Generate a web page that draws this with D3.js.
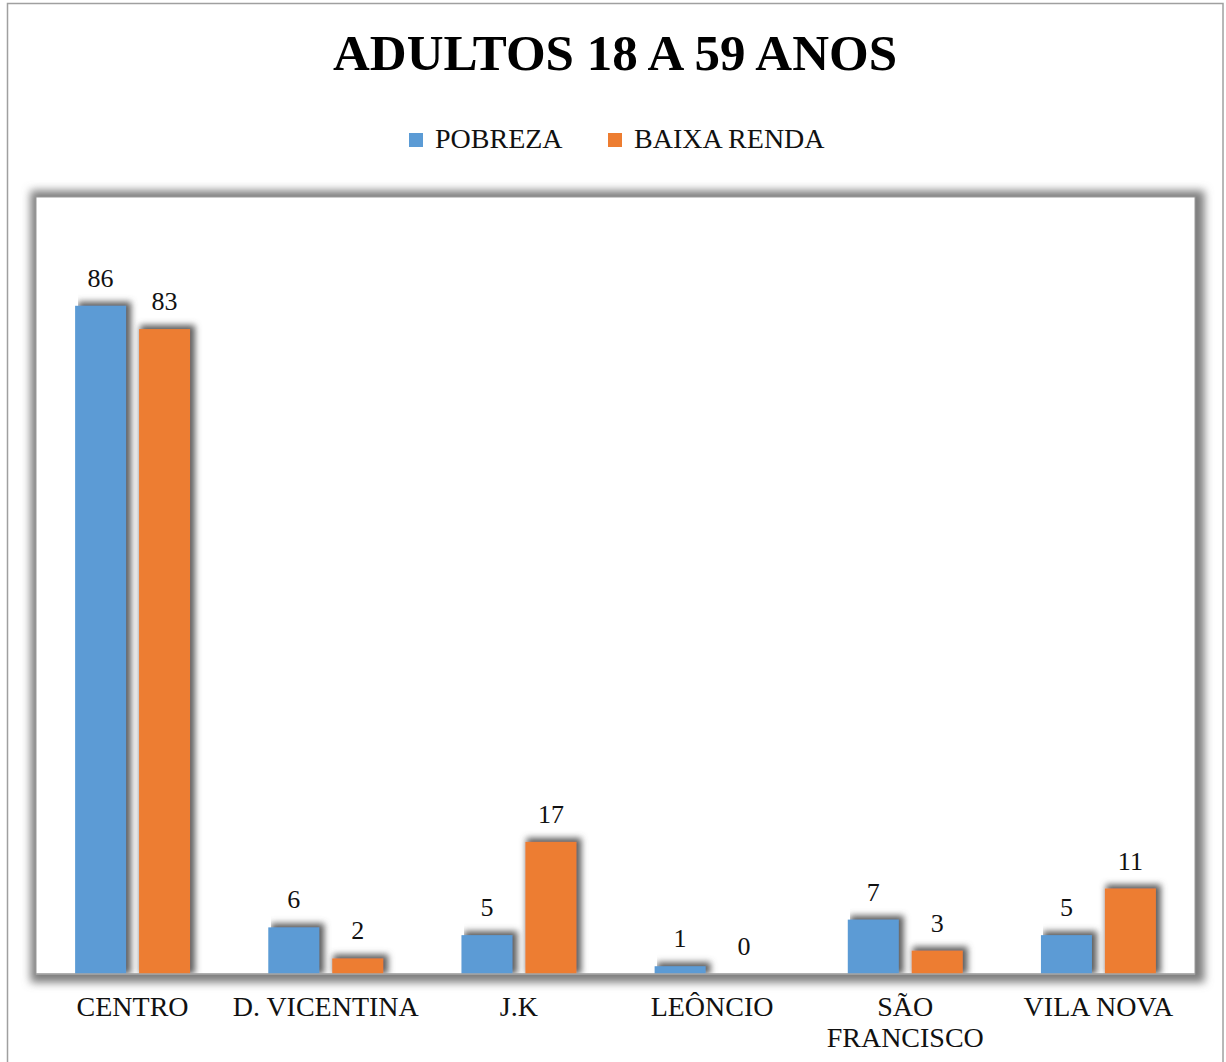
<!DOCTYPE html>
<html>
<head>
<meta charset="utf-8">
<script src="https://cdn.jsdelivr.net/npm/d3@7"></script>
<style>
  body { margin: 0; background: #fff; }
  text { font-family: "Liberation Serif", "Times New Roman", serif; }
</style>
</head>
<body>
<div id="chart"></div>
<script>
// data
const categories = ['CENTRO', 'D. VICENTINA', 'J.K', 'LEÔNCIO', 'SÃO FRANCISCO', 'VILA NOVA'];
const seriesNames = ['POBREZA', 'BAIXA RENDA'];
const pobreza = [86, 6, 5, 1, 7, 5];
const baixaRenda = [83, 2, 17, 0, 3, 11];
const colors = ['#5B9BD5', '#ED7D31'];

const width = 1226, height = 1062;
const plot = {left: 36, top: 197, right: 1195, bottom: 974};

const svg = d3.select('#chart').append('svg')
    .attr('width', width)
    .attr('height', height);

// soft grey shadows: grow the shape a little, blur it, shift it
const defs = svg.append('defs');
function shadow(id, grow, dx, dy, blur, color) {
    const f = defs.append('filter').attr('id', id)
        .attr('filterUnits', 'userSpaceOnUse')
        .attr('x', 0).attr('y', 0).attr('width', width).attr('height', height);
    f.append('feMorphology').attr('in', 'SourceAlpha').attr('operator', 'dilate')
        .attr('radius', grow).attr('result', 'd');
    f.append('feGaussianBlur').attr('in', 'd').attr('stdDeviation', blur).attr('result', 'b');
    f.append('feOffset').attr('in', 'b').attr('dx', dx).attr('dy', dy).attr('result', 'o');
    f.append('feFlood').attr('flood-color', color).attr('result', 'c');
    f.append('feComposite').attr('in', 'c').attr('in2', 'o').attr('operator', 'in').attr('result', 's');
    const m = f.append('feMerge');
    m.append('feMergeNode').attr('in', 's');
    m.append('feMergeNode').attr('in', 'SourceGraphic');
}
shadow('plotShadow', 7, 2, 1, 4, '#7d7d7d');
shadow('barShadow', 2, 3, -2, 3, '#5e5e5e');

// outer border
svg.append('rect')
    .attr('x', 7.5).attr('y', 3.5)
    .attr('width', 1215.5).attr('height', 1080)
    .attr('fill', '#fff')
    .attr('stroke', '#a0a0a0').attr('stroke-width', 1.5);

// title
svg.append('text')
    .attr('x', 615).attr('y', 70)
    .attr('text-anchor', 'middle')
    .attr('font-size', 51).attr('font-weight', 'bold')
    .attr('fill', '#000')
    .text('ADULTOS 18 A 59 ANOS');

// legend
const legendX = [409, 608];
const legend = svg.append('g').selectAll('g')
    .data(seriesNames)
    .join('g')
    .attr('transform', (d, i) => `translate(${legendX[i]}, 133)`);
legend.append('rect')
    .attr('width', 14).attr('height', 14)
    .attr('fill', (d, i) => colors[i]);
legend.append('text')
    .attr('x', 26).attr('y', 15)
    .attr('font-size', 28)
    .attr('fill', '#111')
    .text(d => d);

// plot area
const W = plot.right - plot.left, H = plot.bottom - plot.top;
svg.append('rect')
    .attr('x', plot.left).attr('y', plot.top)
    .attr('width', W).attr('height', H)
    .attr('fill', '#fff')
    .attr('stroke', '#9a9a9a').attr('stroke-width', 1)
    .attr('filter', 'url(#plotShadow)');

const chart = svg.append('g')
    .attr('transform', `translate(${plot.left}, ${plot.top})`);

const x0 = d3.scaleBand().domain(categories).range([0, W])
    .paddingInner(0.405).paddingOuter(0.2025);
const x1 = d3.scaleBand().domain(seriesNames).range([0, x0.bandwidth()])
    .paddingInner(0.203).paddingOuter(0);
const y = d3.scaleLinear().domain([0, 100]).range([H, 0]);

const rows = categories.map((c, i) => ({cat: c, vals: [pobreza[i], baixaRenda[i]]}));

const groups = chart.selectAll('g.cat')
    .data(rows)
    .join('g')
    .classed('cat', true)
    .attr('transform', d => `translate(${x0(d.cat)}, 0)`);

// clip bar shadows at the axis line
chart.append('clipPath').attr('id', 'plotClip')
  .append('rect').attr('x', -300).attr('y', -50).attr('width', W + 600).attr('height', H + 50);
groups.attr('clip-path', 'url(#plotClip)');

groups.selectAll('rect.bar')
    .data(d => d.vals.map((v, i) => ({s: seriesNames[i], v, i})))
    .join('rect')
    .classed('bar', true)
    .attr('x', d => x1(d.s))
    .attr('y', d => y(d.v))
    .attr('width', x1.bandwidth())
    .attr('height', d => H - y(d.v))
    .attr('fill', d => colors[d.i])
    .attr('filter', d => d.v > 0 ? 'url(#barShadow)' : null);

groups.selectAll('text.lbl')
    .data(d => d.vals.map((v, i) => ({s: seriesNames[i], v})))
    .join('text')
    .classed('lbl', true)
    .attr('x', d => x1(d.s) + x1.bandwidth() / 2)
    .attr('y', d => y(d.v) - 19)
    .attr('text-anchor', 'middle')
    .attr('font-size', 26)
    .attr('fill', '#111')
    .text(d => d.v);

// x axis line
chart.append('line')
    .attr('x1', 0).attr('x2', W)
    .attr('y1', H).attr('y2', H)
    .attr('stroke', '#a6a6a6').attr('stroke-width', 1.5);

// category labels, wrapped when wider than the band step
const catLabels = svg.append('g').selectAll('text')
    .data(categories)
    .join('text')
    .attr('x', d => plot.left + x0(d) + x0.bandwidth() / 2)
    .attr('y', 1016)
    .attr('text-anchor', 'middle')
    .attr('font-size', 28)
    .attr('fill', '#111')
    .text(d => d);

catLabels.each(function(d) {
    const t = d3.select(this);
    if (this.getComputedTextLength() > x0.step()) {
        const words = d.split(' ');
        const xx = t.attr('x');
        t.text(null);
        words.forEach((w, i) => {
            t.append('tspan').attr('x', xx).attr('dy', i ? 31 : 0).text(w);
        });
    }
});
</script>
</body>
</html>
